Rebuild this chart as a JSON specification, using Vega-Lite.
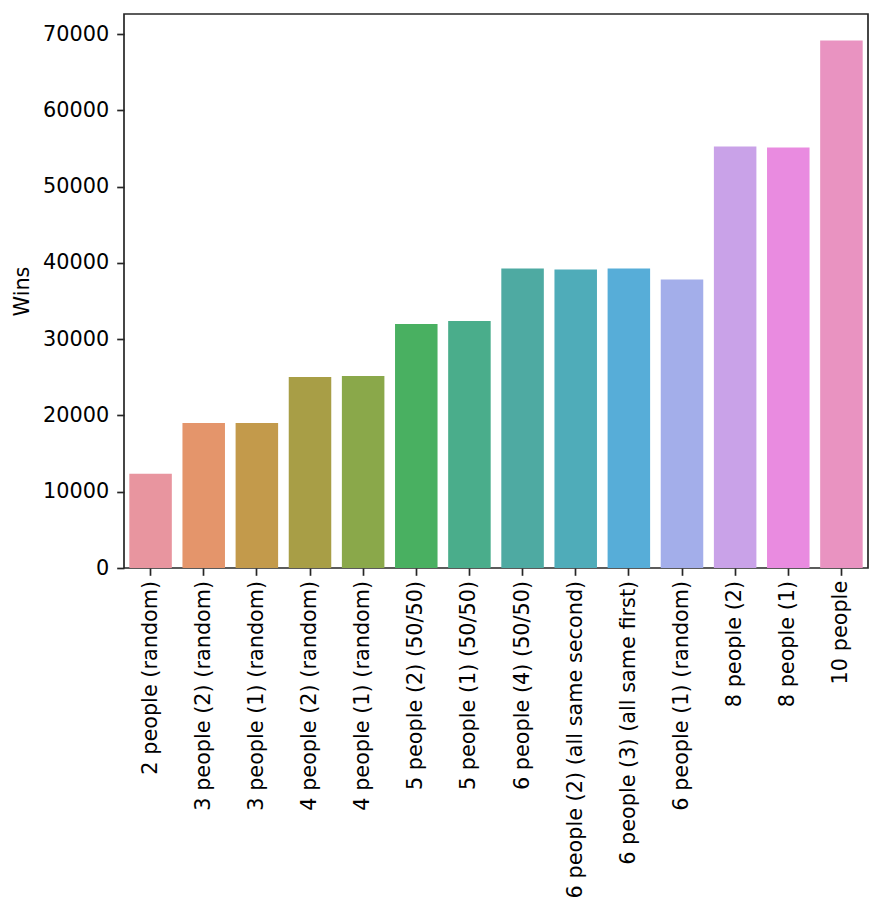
{
  "$schema": "https://vega.github.io/schema/vega-lite/v6.json",
  "width": 744,
  "height": 554,
  "autosize": {"type": "none"},
  "padding": {"left": 124, "top": 14, "right": 15, "bottom": 348},
  "background": "white",
  "config": {
    "font": "DejaVu Sans",
    "view": {"stroke": "#262626", "strokeWidth": 1.7},
    "axis": {
      "labelFont": "DejaVu Sans",
      "titleFont": "DejaVu Sans",
      "labelFontSize": 20.8,
      "titleFontSize": 20.8,
      "titleFontWeight": "normal",
      "labelColor": "#000000",
      "titleColor": "#000000",
      "tickColor": "#262626",
      "tickSize": 7.3,
      "tickWidth": 1.7,
      "domain": false,
      "grid": false
    }
  },
  "data": {
    "values": [
      {"setup": "2 people (random)", "wins": 12370},
      {"setup": "3 people (2) (random)", "wins": 19000},
      {"setup": "3 people (1) (random)", "wins": 19000},
      {"setup": "4 people (2) (random)", "wins": 25030},
      {"setup": "4 people (1) (random)", "wins": 25160},
      {"setup": "5 people (2) (50/50)", "wins": 31980},
      {"setup": "5 people (1) (50/50)", "wins": 32370},
      {"setup": "6 people (4) (50/50)", "wins": 39260},
      {"setup": "6 people (2) (all same second)", "wins": 39130},
      {"setup": "6 people (3) (all same first)", "wins": 39260},
      {"setup": "6 people (1) (random)", "wins": 37820},
      {"setup": "8 people (2)", "wins": 55270},
      {"setup": "8 people (1)", "wins": 55140},
      {"setup": "10 people", "wins": 69170}
    ]
  },
  "mark": {"type": "bar"},
  "encoding": {
    "x": {
      "field": "setup",
      "type": "nominal",
      "sort": null,
      "title": null,
      "scale": {"paddingInner": 0.2, "paddingOuter": 0.1},
      "axis": {"labelAngle": -90, "labelPadding": 5, "labelLimit": 1000}
    },
    "y": {
      "field": "wins",
      "type": "quantitative",
      "title": "Wins",
      "scale": {"domain": [0, 72630], "nice": false, "zero": true},
      "axis": {
        "values": [0, 10000, 20000, 30000, 40000, 50000, 60000, 70000],
        "format": "d",
        "labelPadding": 8,
        "titlePadding": 10
      }
    },
    "color": {
      "field": "setup",
      "type": "nominal",
      "sort": null,
      "legend": null,
      "scale": {
        "domain": ["2 people (random)", "3 people (2) (random)", "3 people (1) (random)", "4 people (2) (random)", "4 people (1) (random)", "5 people (2) (50/50)", "5 people (1) (50/50)", "6 people (4) (50/50)", "6 people (2) (all same second)", "6 people (3) (all same first)", "6 people (1) (random)", "8 people (2)", "8 people (1)", "10 people"],
        "range": ["#e8959f", "#e4956b", "#c39a4b", "#a89e46", "#8aa84a", "#49b061", "#4aad8b", "#4eaaa2", "#4facb9", "#57add8", "#a3aeea", "#c9a2e8", "#e98be0", "#e993c1"]
      }
    }
  }
}
